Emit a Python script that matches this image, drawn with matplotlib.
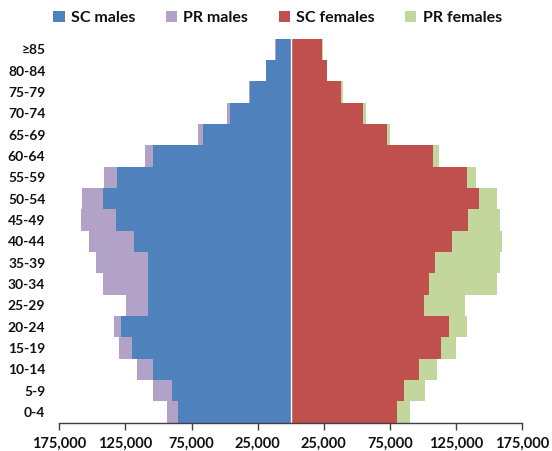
import matplotlib
matplotlib.use("Agg")
import matplotlib.pyplot as plt
from matplotlib.ticker import FuncFormatter, FixedLocator
import numpy as np

plt.rcParams['font.family'] = ['Lato', 'DejaVu Sans']

age_groups = ["0-4", "5-9", "10-14", "15-19", "20-24", "25-29", "30-34", "35-39",
              "40-44", "45-49", "50-54", "55-59", "60-64", "65-69", "70-74",
              "75-79", "80-84", "≥85"]

sc_males = [85200, 89700, 103800, 120400, 128300, 107600, 107600, 108100,
            118400, 132300, 141900, 131700, 104500, 66700, 46100, 30500, 18400, 11300]
pr_males = [8500, 14800, 12400, 9600, 5700, 16600, 34000, 39300,
            34500, 26400, 16100, 9400, 5900, 3800, 2500, 1000, 300, 300]
sc_females = [80300, 85400, 97000, 113900, 119400, 100500, 104300, 109100,
              121900, 134300, 142100, 133000, 107800, 72800, 54700, 38300, 27200, 23700]
pr_females = [9600, 15900, 13400, 11300, 13600, 31200, 51600, 49100,
              38100, 24200, 13600, 7300, 4300, 2300, 2200, 1200, 500, 500]

series_names = ["SC males", "PR males", "SC females", "PR females"]
colors = ["#4F81BD", "#B3A2C7", "#C0504D", "#C3D69B"]
x_ticks = [-175000, -125000, -75000, -25000, 25000, 75000, 125000, 175000]

fig = plt.figure(figsize=(5.52, 4.51), dpi=100)
ax = fig.add_axes([0.1074, 0.0627, 0.8388, 0.8519])

y = np.arange(len(age_groups))
scm = -np.array(sc_males)
prm = -np.array(pr_males)
scf = np.array(sc_females)
prf = np.array(pr_females)

h = 1.0
b1 = ax.barh(y, scm, height=h, color=colors[0], label=series_names[0], linewidth=0)
b2 = ax.barh(y, prm, left=scm, height=h, color=colors[1], label=series_names[1], linewidth=0)
b3 = ax.barh(y, scf, height=h, color=colors[2], label=series_names[2], linewidth=0)
b4 = ax.barh(y, prf, left=scf, height=h, color=colors[3], label=series_names[3], linewidth=0)
ax.axvline(0, color="white", linewidth=1.0)

ax.set_xlim(-175000, 175000)
ax.set_ylim(-0.5, len(age_groups) - 0.5)
ax.xaxis.set_major_locator(FixedLocator(x_ticks))
ax.xaxis.set_major_formatter(FuncFormatter(lambda v, p: f"{abs(int(v)):,}"))
ax.set_yticks(y)
ax.set_yticklabels(age_groups)

for s in ["top", "right", "left"]:
    ax.spines[s].set_visible(False)
ax.spines["bottom"].set_color("#404040")
ax.spines["bottom"].set_linewidth(1.0)
ax.tick_params(axis="y", length=0, pad=10, labelsize=10)
ax.tick_params(axis="x", length=5, width=1, color="#404040", direction="out", pad=5, labelsize=10.5)
for lab in ax.get_xticklabels() + ax.get_yticklabels():
    lab.set_fontweight("bold")
    lab.set_color("#111111")

leg = fig.legend(handles=[b1, b2, b3, b4], loc="upper center", bbox_to_anchor=(0.503, 1.008),
                 ncol=4, frameon=False, prop={"weight": "bold", "size": 11.5},
                 handlelength=0.7, handleheight=0.7, handletextpad=0.4, columnspacing=1.9)
for t in leg.get_texts():
    t.set_color("#111111")

fig.savefig("out.png", dpi=100)
